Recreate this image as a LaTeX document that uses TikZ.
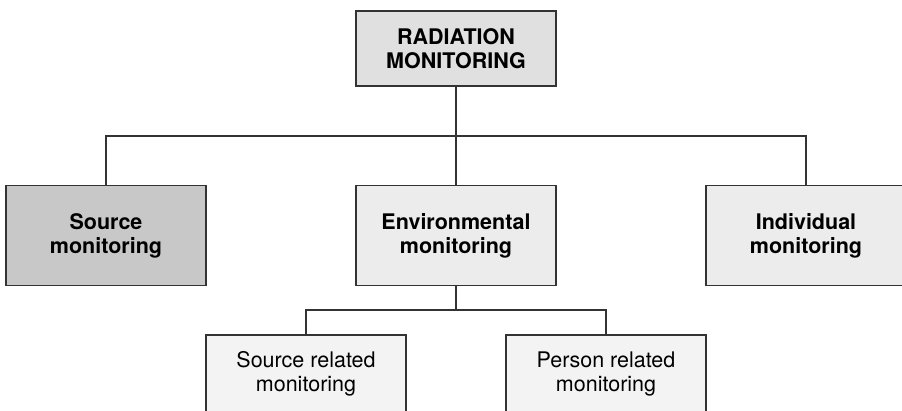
\documentclass[tikz,border=0pt]{standalone}
\usepackage{fontspec}
\setmainfont{TeX Gyre Heros}
\definecolor{edgegray}{HTML}{333333}
\definecolor{topfill}{HTML}{E0E0E0}
\definecolor{srcfill}{HTML}{C8C8C8}
\definecolor{midfill}{HTML}{ECECEC}
\definecolor{lowfill}{HTML}{F3F3F3}
\begin{document}
\begin{tikzpicture}[x=1pt,y=-1pt,
  box/.style={draw=edgegray,line width=1.1pt,minimum width=200pt,minimum height=100pt,
    inner sep=0pt,align=center,font=\fontsize{21.5}{24}\selectfont},
  boldbox/.style={box,font=\fontsize{21.5}{24}\selectfont\bfseries},
  link/.style={draw=edgegray,line width=1.1pt}]
\useasboundingbox (0,0) rectangle (902,410);
\clip (0,0) rectangle (902,410);
\node[boldbox,fill=topfill,minimum height=75pt] (top) at (456,48.5) {RADIATION\\MONITORING};
\node[boldbox,fill=srcfill] (src) at (106,235.5) {Source\\monitoring};
\node[boldbox,fill=midfill] (env) at (456,235.5) {Environmental\\monitoring};
\node[boldbox,fill=midfill] (ind) at (806,235.5) {Individual\\monitoring};
\node[box,fill=lowfill,minimum height=78pt] (srel) at (306,374) {Source related\\monitoring};
\node[box,fill=lowfill,minimum height=78pt] (prel) at (606,374) {Person related\\monitoring};
\draw[link] (top.south) -- (env.north);
\draw[link] (src.north) |- (ind.north |- 0,136) -- (ind.north);
\draw[link] (env.south) -- (env.south |- 0,310);
\draw[link] (srel.north) |- (prel.north |- 0,310) -- (prel.north);
\end{tikzpicture}
\end{document}
